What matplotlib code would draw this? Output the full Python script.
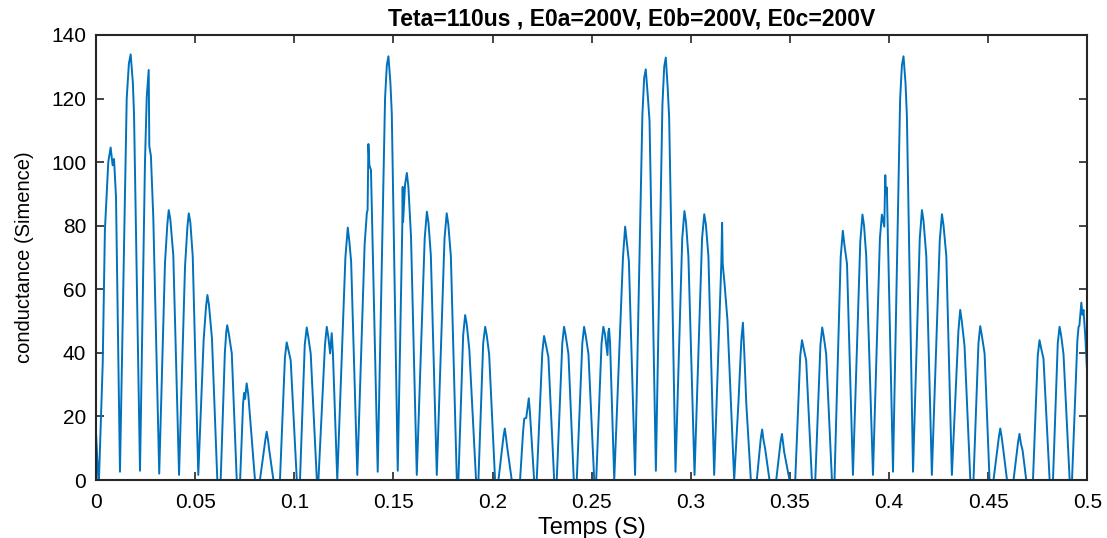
import numpy as np
import matplotlib.pyplot as plt

# conductance trace, time in ms, value in Simence
# 0 - 100 ms
seg1_t = [0, 1.2, 1.5, 3.4, 4.5, 6.2, 7.4, 8.4, 9.1, 10.1, 12.1,
          15.5, 16.6, 17.5, 18.6, 19.2, 22.2,
          24.7, 25.6, 26.6, 26.9, 27.7, 28.9, 31.9,
          34.8, 36.0, 36.7, 37.5, 39.0, 41.9,
          44.9, 46.1, 46.8, 47.6, 48.8, 51.6,
          54.3, 55.5, 56.2, 57.0, 58.5, 61.2, 62.9,
          65.0, 65.7, 66.2, 67.0, 68.5, 71.0, 72.7,
          74.2, 74.7, 75.2, 76.0, 76.8, 78.1, 80.2, 82.7,
          85.4, 86.1, 86.8, 87.4, 89.5, 92.8,
          95.3, 96.2, 97.0, 98.2, 101.3, 102.9]
seg1_g = [15, 0, 0, 36.7, 78.6, 100, 104.6, 99, 101, 89, 2.6,
          120, 131, 133.9, 125, 114.8, 2.9,
          99.6, 120.5, 129, 105, 102, 82.8, 2,
          68.2, 80.5, 84.9, 82, 70.7, 1.6,
          67, 79.5, 83.9, 81, 70.4, 1.6,
          44, 54.5, 58.2, 55, 44.5, 0, 0,
          40, 46.5, 48.7, 46, 39.8, 0, 0,
          24, 27.4, 25.5, 30.4, 27, 16.8, 0, 0,
          12.5, 15.2, 12.5, 9.4, 0, 0,
          38.5, 43.3, 41, 37.7, 0, 0]

# 100 - 200 ms
seg2_t = [105.3, 106.3, 107.1, 108.3, 111.4, 112.2,
          115.5, 116.4, 117.2, 118.1, 118.9, 119.5, 121.7,
          125.8, 127.0, 127.8, 128.7, 131.8,
          135.5, 136.6, 137.0, 137.4, 137.9, 138.7, 142.1,
          145.8, 146.7, 147.5, 148.5, 149.2, 152.2,
          154.5, 154.7, 154.9, 155.9, 156.8, 157.6, 158.9, 161.8,
          165.8, 166.9, 167.7, 168.9, 171.9,
          175.8, 176.9, 177.7, 179.0, 182.0, 182.8,
          185.2, 186.2, 187.0, 188.3, 191.7, 192.9,
          195.3, 196.3, 197.1, 198.3, 201.3, 203.0]
seg2_g = [42.5, 48.0, 45, 39.8, 0, 0,
          42.5, 48.2, 45, 39.8, 46.2, 40, 0,
          70, 79.4, 75, 68.7, 1.6,
          74, 83.9, 85, 105.7, 99, 97.5, 2.6,
          120, 130.5, 133.3, 125, 115.3, 2.9,
          80, 92.2, 81.2, 93, 96.6, 92, 76.5, 1.6,
          76, 84.4, 81, 70.7, 1.6,
          76, 83.9, 80.5, 70.4, 0, 0,
          45.5, 51.9, 49, 41.1, 0, 0,
          43, 48.2, 45.5, 39.6, 0, 0]

# 200 - 300 ms
seg3_t = [205.5, 206.2, 206.8, 207.5, 209.7, 213.9,
          215.4, 216.0, 217.0, 218.3, 218.9, 221.0, 222.3,
          225.1, 226.0, 226.8, 228.2, 231.1, 232.4,
          235.2, 236.1, 236.9, 238.3, 241.0, 242.5,
          245.3, 246.2, 247.0, 248.4, 251.3, 252.3,
          255.0, 255.9, 256.7, 257.5, 258.0, 258.4, 258.8, 259.3, 261.4,
          265.8, 266.9, 267.7, 268.8, 271.9,
          275.6, 276.5, 277.3, 278.3, 279.2, 282.4,
          285.7, 286.6, 287.4, 288.3, 289.1, 292.3,
          295.7, 296.8, 297.6, 298.8, 301.9]
seg3_g = [13.5, 16.2, 13.5, 9.9, 0, 0,
          15, 19.3, 19.5, 25.7, 21, 0, 0,
          40, 45.3, 43, 38.6, 0, 0,
          43, 48.2, 45.5, 39.6, 0, 0,
          43, 48.2, 45.5, 39.6, 0, 0,
          43, 48.2, 46, 42, 39.3, 46.5, 47.6, 43, 0,
          70, 79.7, 75, 68.7, 1.6,
          115, 126.5, 129.2, 121, 113, 2.9,
          118, 130, 132.9, 124, 114, 2.6,
          76, 84.6, 81, 70.4, 1.6]

# 300 - 400 ms
seg4_t = [305.7, 306.8, 307.6, 308.9, 311.8,
          315.4, 315.8, 316.1, 317.0, 318.5, 321.9,
          324.1, 325.5, 326.3, 327.0, 328.0, 330.3, 333.3,
          335.3, 336.0, 336.7, 337.5, 339.7, 343.1,
          345.3, 346.0, 346.6, 347.1, 349.8, 352.7,
          355.2, 356.1, 356.9, 358.2, 361.1, 362.8,
          365.4, 366.3, 367.1, 368.3, 371.2, 372.5,
          375.6, 376.7, 377.5, 378.8, 381.8,
          385.5, 386.6, 387.4, 388.5, 391.9,
          395.4, 396.4, 397.6, 398.1, 398.4, 398.9, 402.0]
seg4_g = [76, 83.6, 80.5, 70.4, 1.6,
          68, 80.9, 68.1, 62, 50.3, 0,
          25, 44, 49.5, 40, 24.1, 0, 0,
          13, 15.9, 12.5, 9.9, 0, 0,
          12, 14.5, 11.5, 8.9, 0, 0,
          39, 44.0, 41.5, 37.7, 0, 0,
          42.5, 48.0, 45, 39.6, 0, 0,
          70, 78.4, 74, 68, 1.6,
          75, 83.5, 80, 70.4, 1.6,
          76, 83.5, 79.7, 95.9, 90, 92, 2.6]

# 400 - 500 ms
seg5_t = [405.6, 406.5, 407.3, 408.3, 409.0, 412.1,
          415.5, 416.6, 417.4, 418.8, 421.6,
          425.6, 426.7, 427.5, 428.9, 431.7,
          435.0, 435.9, 436.7, 438.1, 441.0, 442.6,
          445.1, 446.0, 446.8, 448.2, 450.7, 452.7,
          455.4, 456.1, 456.8, 457.5, 459.5, 462.8,
          465.1, 465.8, 466.5, 467.4, 469.2, 472.6,
          475.0, 475.9, 476.7, 477.9, 481.0, 482.7,
          485.1, 486.0, 486.8, 488.0, 491.1, 492.3,
          495.0, 495.6, 496.0, 497.0, 497.5, 498.1, 499.0, 499.8, 500.0]
seg5_g = [120, 130.5, 133.3, 125, 114.8, 2.6,
          76, 84.9, 81.5, 70.4, 1.6,
          75.5, 83.6, 80, 70.4, 1.6,
          47, 53.5, 50, 42, 0, 0,
          43, 48.4, 45.5, 39.8, 0, 0,
          13.5, 16.2, 13.5, 10.2, 0, 0,
          12, 14.5, 11.5, 9.2, 0, 0,
          39, 44.0, 41.5, 38.2, 0, 0,
          43, 48.2, 45.5, 39.6, 0, 0,
          44, 48.2, 48.5, 55.8, 52, 53.5, 45, 35.1, 35]

xtick_labels = ['0', '0.05', '0.1', '0.15', '0.2', '0.25', '0.3', '0.35', '0.4', '0.45', '0.5']

t = np.array(seg1_t + seg2_t + seg3_t + seg4_t + seg5_t) / 1000.0
g = np.array(seg1_g + seg2_g + seg3_g + seg4_g + seg5_g)

plt.rcParams['font.family'] = ['Liberation Sans', 'DejaVu Sans']

fig = plt.figure(figsize=(11.07, 5.38), dpi=100)
ax = fig.add_axes([0.0867, 0.1078, 0.8955, 0.8272])
ax.plot(t, g, color='#0072BD', lw=1.4)

ax.set_xlim(0, 0.5)
ax.set_ylim(0, 140)
ax.set_xticks(np.arange(0, 0.501, 0.05))
ax.set_xticklabels(xtick_labels)
ax.set_yticks(np.arange(0, 141, 20))
ax.tick_params(direction='in', top=True, right=True, length=6, width=1.2,
               labelsize=15, color='#262626', pad=7)
ax.tick_params(axis='x', pad=9)
for s in ax.spines.values():
    s.set_linewidth(1.5)
    s.set_color('#262626')

# title sits a bit right of the axes centre in the original
ax.set_title('Teta=110us , E0a=200V, E0b=200V, E0c=200V', fontsize=16.5,
             fontweight='bold', pad=7, x=0.54)
ax.set_xlabel('Temps (S)', fontsize=17, labelpad=4)
ax.set_ylabel('conductance (Simence)', fontsize=14.5, labelpad=12)

fig.savefig('out.png', dpi=100)
